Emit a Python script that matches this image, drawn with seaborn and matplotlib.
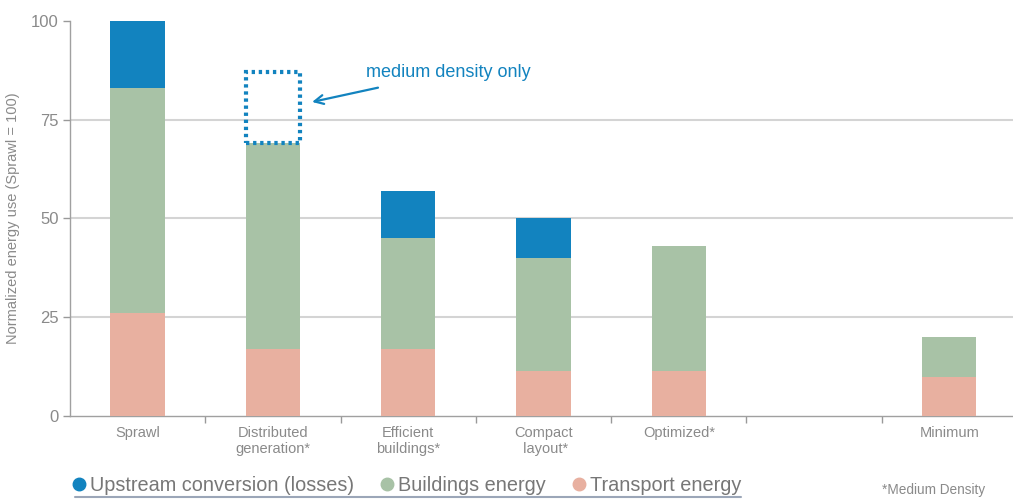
import matplotlib
matplotlib.use("Agg")
import matplotlib.pyplot as plt
from matplotlib.patches import Rectangle
from matplotlib.lines import Line2D
from matplotlib.ticker import FixedLocator
import seaborn as sns
import pandas as pd

# ---- data -------------------------------------------------------------
categories = ["Sprawl", "Distributed\ngeneration*", "Efficient\nbuildings*",
              "Compact\n layout*", "Optimized*", " ", "Minimum"]
transport = [26, 17, 17, 11.5, 11.5, None, 10]
buildings = [57, 52, 28, 28.5, 31.5, None, 10]
upstream = [17, 0, 12, 10, 0, None, 0]
# dotted outline: upstream losses shown for medium density only
dist_upstream_outline = 18
series_names = ["Upstream conversion (losses)", "Buildings energy", "Transport energy"]

c_up = "#1283bf"
c_bld = "#a8c2a6"
c_tr = "#e8b0a0"
grey = "#8a8a8a"

rows = []
for cat, t, b, u in zip(categories, transport, buildings, upstream):
    if t is None:
        continue
    rows.append({"cat": cat, "transport": t, "t_b": t + b, "total": t + b + u})
df = pd.DataFrame(rows)

sns.set_theme(style="white")
plt.rcParams["font.family"] = ["Liberation Sans", "DejaVu Sans"]

fig = plt.figure(figsize=(10.13, 5.0), dpi=100)
ax = fig.add_axes([0.069, 0.168, 0.931, 0.79])

for col, color in [("total", c_up), ("t_b", c_bld), ("transport", c_tr)]:
    sns.barplot(data=df, x="cat", y=col, order=categories, color=color,
                width=0.4, saturation=1, ax=ax, zorder=3, edgecolor="none")

# dotted box above the distributed generation bar
i = categories.index("Distributed\ngeneration*")
base = transport[i] + buildings[i]
ax.add_patch(Rectangle((i - 0.2, base), 0.4, dist_upstream_outline, fill=False,
                       edgecolor=c_up, linestyle=(0, (0.8, 0.9)), linewidth=3,
                       zorder=4))
ax.annotate("medium density only", xy=(i + 0.29, base + 10.5),
            xytext=(i + 0.69, base + 18), color=c_up, fontsize=13,
            va="center",
            arrowprops=dict(arrowstyle="->", color=c_up, lw=1.6,
                            shrinkA=12, shrinkB=0, mutation_scale=16))

ax.set_xlim(-0.5, 6.47)
ax.set_ylim(0, 100)
ax.set_yticks([0, 25, 50, 75, 100])
ax.set_yticklabels(["0", "25", "50", "75", "100"])
for y in (25, 50, 75):
    ax.axhline(y, color="#d4d4d4", lw=1.5, zorder=1)

ax.set_xticks(range(len(categories)))
ax.set_xticklabels(categories)
ax.xaxis.set_minor_locator(FixedLocator([k + 0.5 for k in range(6)]))
ax.tick_params(axis="x", which="major", length=0, pad=7, labelsize=10.5, labelcolor=grey)
ax.tick_params(axis="x", which="minor", bottom=True, length=5, width=1, color="#999999")
ax.tick_params(axis="y", left=True, length=5, width=1, color="#999999",
               labelsize=12, labelcolor=grey, pad=3)

for s in ("top", "right"):
    ax.spines[s].set_visible(False)
for s in ("left", "bottom"):
    ax.spines[s].set_color("#a0a0a0")
    ax.spines[s].set_linewidth(1)

ax.set_xlabel("")
ax.set_ylabel("Normalized energy use (Sprawl = 100)", color=grey, fontsize=10.5)
ax.yaxis.set_label_coords(-0.053, 0.5)

# legend row along the bottom
handles = [Line2D([], [], marker="o", ls="none", markersize=9, color=c)
           for c in (c_up, c_bld, c_tr)]
leg = fig.legend(handles, series_names, loc="lower left", bbox_to_anchor=(0.051, -0.026),
                 ncol=3, frameon=False, handletextpad=0.05, columnspacing=1.15,
                 handlelength=1.0, prop={"size": 14.3})
for t in leg.get_texts():
    t.set_color("#777777")
fig.add_artist(Line2D([0.074, 0.731], [0.007, 0.007], color="#9ba6b8", lw=1.5))

fig.text(0.871, 0.012, "*Medium Density", color=grey, fontsize=9.8)

fig.savefig("out.png", dpi=100)
